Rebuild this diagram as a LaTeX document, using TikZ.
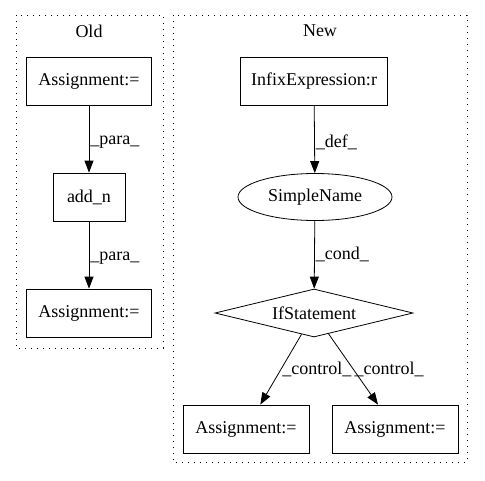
\documentclass[tikz,border=0pt]{standalone}
\usepackage{fontspec}
\setmainfont{Liberation Serif}
\usetikzlibrary{shapes.geometric, arrows.meta}

\begin{document}
\begin{tikzpicture}[x=1pt, y=-1pt,
		font=\fontsize{18}{21}\selectfont,
		box/.style={draw, rectangle, minimum height=48pt, inner sep=0pt, line width=0.8pt},
		flow/.style={-{Triangle[length=12pt,width=9pt]}, line width=0.8pt},
		lbl/.style={anchor=west, inner sep=1pt},
		cluster/.style={dash pattern=on 1.2pt off 4.8pt, line width=1pt}
	]
	\useasboundingbox (0,0) rectangle (485,480);

	% clusters
	\draw[cluster] (16,15) rectangle (163,348);
	\draw[cluster] (173,15) rectangle (467,462);
	\node (old) at (89,31) {Old};
	\node (new) at (320,31) {New};

	% old
	\node[box, minimum width=125pt] (as1) at (89,81) {Assignment:=};
	\node[box, minimum width=72pt] (addn) at (89,197) {add\_n};
	\node[box, minimum width=125pt] (as2) at (89,313) {Assignment:=};

	\draw[flow] (as1) -- node[lbl, pos=0.55] {\_para\_} (addn);
	\draw[flow] (addn) -- node[lbl, pos=0.55] {\_para\_} (as2);

	% new
	\node[box, minimum width=147pt] (infix) at (314,81) {InfixExpression:r};
	\node[ellipse,
		draw,
		line width=0.8pt,
		minimum width=154pt,
		minimum height=47pt,
		inner sep=0pt
	] (sname) at (315,197) {SimpleName};
	\node[diamond,
		draw,
		line width=0.8pt,
		aspect=4,
		minimum width=198pt,
		minimum height=48pt,
		inner sep=0pt
	] (ifst) at (314,313) {IfStatement};
	\node[box, minimum width=126pt] (as3) at (246,429) {Assignment:=};
	\node[box, minimum width=126pt] (as4) at (395,429) {Assignment:=};

	\draw[flow] (infix) -- node[lbl, pos=0.55] {\_def\_} (sname);
	\draw[flow] (sname) -- node[lbl] {\_cond\_} (ifst);
	\draw[flow] (ifst) -- node[lbl] {\_control\_} (as3);
	\draw[flow] (ifst) -- node[lbl] {\_control\_} (as4);
\end{tikzpicture}
\end{document}
